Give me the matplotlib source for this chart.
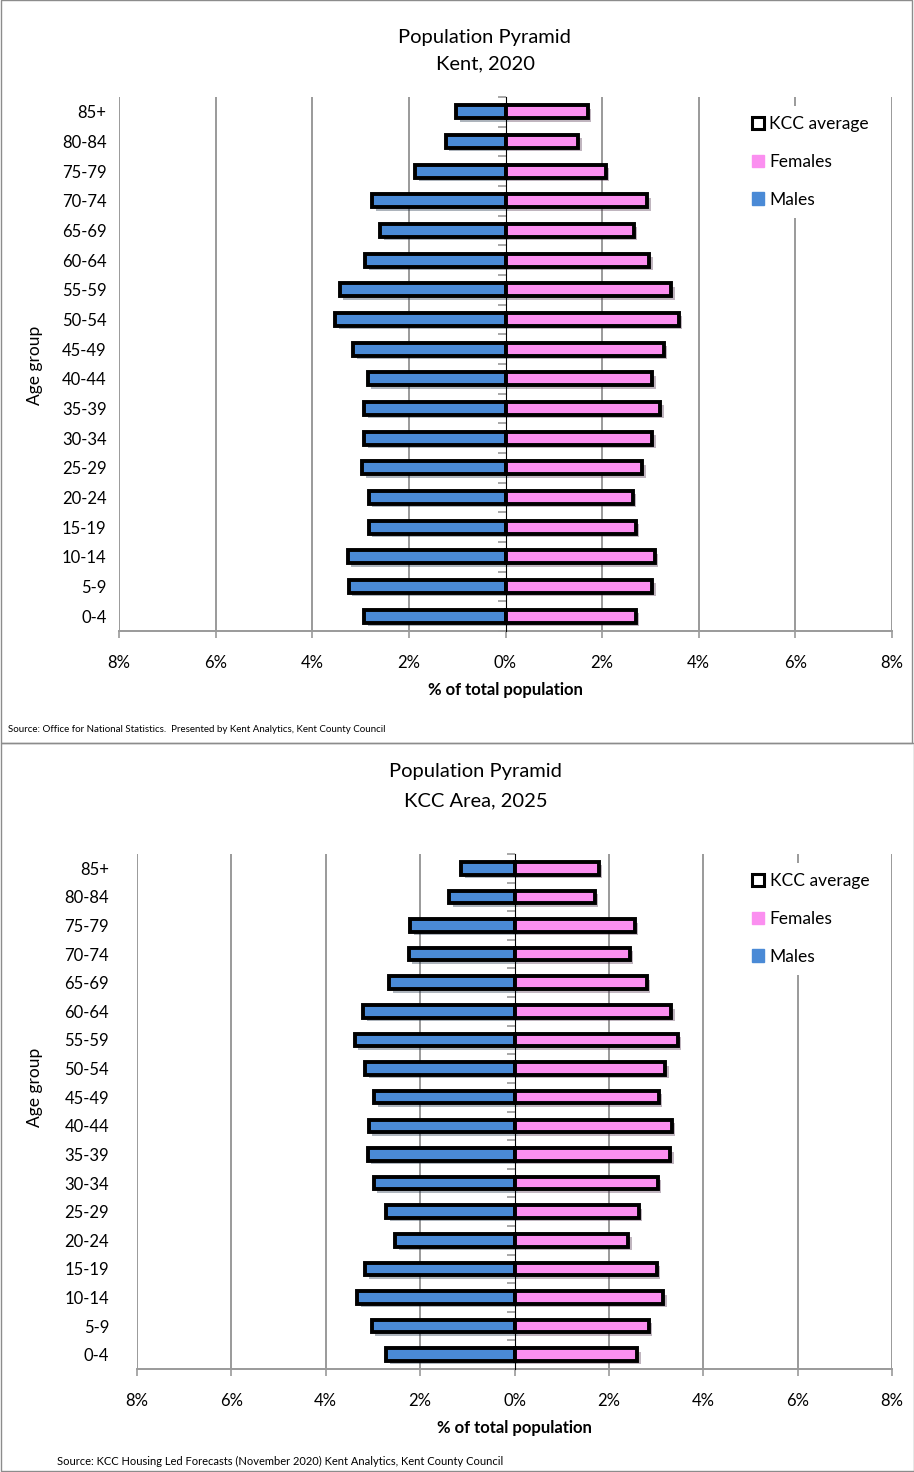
import numpy as np
import matplotlib
matplotlib.use("Agg")
import matplotlib.pyplot as plt
from matplotlib.patches import Patch, Rectangle
from matplotlib import patheffects as pe

plt.rcParams['font.family'] = ['Lato', 'DejaVu Sans']

# ---------------- data ----------------
age_groups = ['0-4', '5-9', '10-14', '15-19', '20-24', '25-29', '30-34', '35-39', '40-44',
              '45-49', '50-54', '55-59', '60-64', '65-69', '70-74', '75-79', '80-84', '85+']

# Kent, 2020 (% of total population)
males_2020 = [2.92, 3.24, 3.26, 2.83, 2.83, 2.96, 2.92, 2.92, 2.85,
              3.15, 3.52, 3.43, 2.90, 2.59, 2.76, 1.87, 1.24, 1.02]
females_2020 = [2.70, 3.04, 3.09, 2.70, 2.63, 2.83, 3.04, 3.20, 3.04,
                3.28, 3.59, 3.43, 2.98, 2.66, 2.93, 2.08, 1.51, 1.70]

# KCC Area, 2025
males_2025 = [2.72, 3.03, 3.33, 3.16, 2.53, 2.72, 2.98, 3.11, 3.09,
              2.97, 3.16, 3.38, 3.21, 2.65, 2.24, 2.21, 1.38, 1.13]
females_2025 = [2.60, 2.85, 3.15, 3.01, 2.41, 2.63, 3.04, 3.30, 3.33,
                3.06, 3.19, 3.46, 3.32, 2.80, 2.44, 2.55, 1.70, 1.79]

xticks = [-8, -6, -4, -2, 0, 2, 4, 6, 8]
xtick_labels = ['8%', '6%', '4%', '2%', '0%', '2%', '4%', '6%', '8%']

MALE = '#4a8ad6'
FEMALE = '#fb8ff0'
GRID = '#9a9a9a'
W, H = 914, 1472


def fx(px):
    return px / W


def fy(py):
    return 1 - py / H


def pyramid(ax, males, females, ylab_pad):
    y = np.arange(len(age_groups))
    shadow = [pe.SimplePatchShadow(offset=(2.5, -2.5), alpha=0.35), pe.Normal()]
    ax.barh(y, -np.array(males), height=0.44, color=MALE, edgecolor='black',
            linewidth=2.8, path_effects=shadow, zorder=3)
    ax.barh(y, females, height=0.44, color=FEMALE, edgecolor='black',
            linewidth=2.8, path_effects=shadow, zorder=3)

    ax.set_xlim(-8, 8)
    ax.set_ylim(-0.5, len(age_groups) - 0.5)
    ax.set_xticks(xticks)
    ax.set_xticklabels(xtick_labels, fontsize=12)
    ax.set_yticks(y)
    ax.set_yticklabels(age_groups, fontsize=12)
    ax.tick_params(axis='y', length=0, pad=ylab_pad)
    ax.tick_params(axis='x', length=5, color=GRID, width=1.2, pad=12)

    for v in xticks:
        if v != 0:
            ax.axvline(v, color=GRID, lw=1.4, zorder=1)
    for s in ['top', 'right', 'left']:
        ax.spines[s].set_visible(False)
    ax.spines['bottom'].set_color(GRID)
    ax.spines['bottom'].set_linewidth(1.4)

    # centre axis with category tick marks
    sec = ax.secondary_yaxis(0.5)
    sec.set_yticks([])
    sec.set_yticks(np.arange(-0.5, len(age_groups)), minor=True)
    sec.tick_params(which='minor', length=6, color=GRID, width=1.2, direction='in')
    sec.spines['left'].set_color(GRID)
    sec.spines['left'].set_linewidth(1.4)
    sec.set_zorder(4)

    ax.set_xlabel('% of total population', fontsize=12, fontweight='bold', labelpad=8)

    handles = [Patch(facecolor='white', edgecolor='black', linewidth=2.2, label='KCC average'),
               Patch(facecolor=FEMALE, edgecolor=FEMALE, label='Females'),
               Patch(facecolor=MALE, edgecolor=MALE, label='Males')]
    leg = ax.legend(handles=handles, loc='upper right', bbox_to_anchor=(0.995, 1.0),
                    frameon=True, fontsize=12.5, labelspacing=1.25, handlelength=0.7,
                    handleheight=0.7, handletextpad=0.3, borderpad=0.6)
    leg.get_frame().set_edgecolor('none')
    leg.get_frame().set_facecolor('white')
    leg.get_frame().set_alpha(1)
    leg.set_zorder(5)


fig = plt.figure(figsize=(W / 100, H / 100), dpi=100)

# panel frames
fig.add_artist(Rectangle((fx(1), fy(743)), fx(911), 743 / H, transform=fig.transFigure,
                         fill=False, edgecolor='#8c8c8c', lw=1))
fig.add_artist(Rectangle((fx(1), fy(1471)), fx(913), (1471 - 743) / H, transform=fig.transFigure,
                         fill=False, edgecolor='#8c8c8c', lw=1))

# top panel: Kent, 2020
ax1 = fig.add_axes([fx(119), fy(631), fx(892 - 119), (631 - 97) / H])
pyramid(ax1, males_2020, females_2020, 9)
fig.text(fx(484), fy(37), 'Population Pyramid', ha='center', va='center', fontsize=14.5)
fig.text(fx(486), fy(64), 'Kent, 2020', ha='center', va='center', fontsize=14.5)
fig.text(fx(35), fy(365), 'Age group', rotation=90, ha='center', va='center', fontsize=12.5)
fig.text(fx(8), fy(729), 'Source: Office for National Statistics.  Presented by Kent Analytics, Kent County Council',
         ha='left', va='center', fontsize=7)

# bottom panel: KCC Area, 2025
ax2 = fig.add_axes([fx(137), fy(1369), fx(892 - 137), (1369 - 854) / H])
pyramid(ax2, males_2025, females_2025, 20)
fig.text(fx(475), fy(771), 'Population Pyramid', ha='center', va='center', fontsize=14.5)
fig.text(fx(476), fy(801), 'KCC Area, 2025', ha='center', va='center', fontsize=14.5)
fig.text(fx(35), fy(1087), 'Age group', rotation=90, ha='center', va='center', fontsize=12.5)
fig.text(fx(57), fy(1461), 'Source: KCC Housing Led Forecasts (November 2020) Kent Analytics, Kent County Council',
         ha='left', va='center', fontsize=8)

fig.savefig('out.png', dpi=100)
